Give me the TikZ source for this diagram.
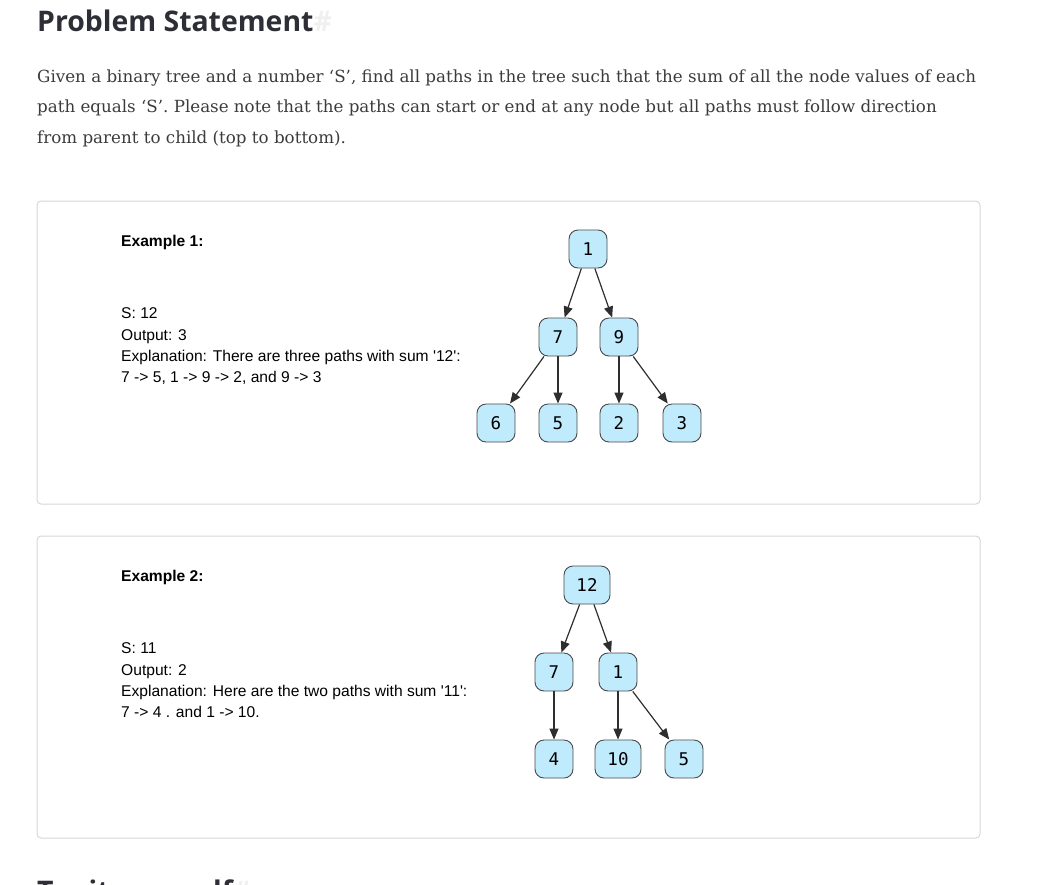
\documentclass[tikz,border=0pt]{standalone}
\usepackage{fontspec}
\setmainfont{DejaVu Serif}
\newfontfamily\headfont{Open Sans}
\newfontfamily\exfont{Liberation Sans}
\newfontfamily\numfont{DejaVu Sans Mono}
\usetikzlibrary{arrows.meta}
\definecolor{nodefill}{HTML}{BFEBFD}
\definecolor{nodeline}{HTML}{4A4A4A}
\definecolor{boxline}{HTML}{D6D6D6}
\definecolor{bodytext}{HTML}{3B3B3B}
\definecolor{headtext}{HTML}{2E2E36}
\begin{document}
\begin{tikzpicture}[x=1pt, y=-1pt,
    treenode/.style={draw=nodeline, line width=0.9pt, fill=nodefill, rounded corners=9pt, minimum width=38pt, minimum height=38pt, inner sep=0pt, font=\numfont\fontsize{17.5}{17.5}\selectfont},
    widenode/.style={treenode, minimum width=46pt},
    edge/.style={draw=black!82, line width=1.2pt, -{Triangle[length=11pt, width=9pt]}},
    exbox/.style={draw=boxline, line width=1pt, rounded corners=4pt},
    extext/.style={anchor=base west, inner sep=0pt, font=\exfont\fontsize{15.6}{15.6}\selectfont},
    exhead/.style={extext, font=\exfont\bfseries\fontsize{15.6}{15.6}\selectfont},
    bodyline/.style={anchor=base west, inner sep=0pt, text=bodytext, font=\fontsize{16.7}{16.7}\selectfont},
    heading/.style={anchor=base west, inner sep=0pt, text=headtext, font=\headfont\bfseries\fontsize{28.4}{28.4}\selectfont}]
    \useasboundingbox (0,0) rectangle (1039,884);
    \clip (0,0) rectangle (1039,884);

    % Heading and statement
    \node[heading] (title) at (37,31) {Problem Statement\textcolor{black!6}{\#}};
    \node[bodyline] (line1) at (37,82) {Given a binary tree and a number ‘S’, find all paths in the tree such that the sum of all the node values of each};
    \node[bodyline] (line2) at (37,112) {path equals ‘S’. Please note that the paths can start or end at any node but all paths must follow direction};
    \node[bodyline] (line3) at (37,143) {from parent to child (top to bottom).};

    % Example boxes
    \draw[exbox] (37,201) rectangle (980,504);
    \draw[exbox] (37,536) rectangle (980,838);

    % Example 1 text
    \node[exhead] (ex1) at (121,246) {Example 1:};
    \node[extext] (s1) at (121,318) {S: 12};
    \node[extext] (o1) at (121,340) {Output: 3};
    \node[extext] (e1) at (121,361) {Explanation: There are three paths with sum '12':};
    \node[extext] (p1) at (121,382) {7 -> 5, 1 -> 9 -> 2, and 9 -> 3};

    % Define nodes
    \node[treenode] (a1) at (588,249) {1};
    \node[treenode] (a7) at (558,337) {7};
    \node[treenode] (a9) at (619,337) {9};
    \node[treenode] (a6) at (496,423) {6};
    \node[treenode] (a5) at (558,423) {5};
    \node[treenode] (a2) at (619,423) {2};
    \node[treenode] (a3) at (682,423) {3};

    % Draw edges
    \draw[edge] (a1) -- (a7);
    \draw[edge] (a1) -- (a9);
    \draw[edge] (a7) -- (a6);
    \draw[edge] (a7) -- (a5);
    \draw[edge] (a9) -- (a2);
    \draw[edge] (a9) -- (a3);

    % Example 2 text
    \node[exhead] (ex2) at (121,581) {Example 2:};
    \node[extext] (s2) at (121,653) {S: 11};
    \node[extext] (o2) at (121,675) {Output: 2};
    \node[extext] (e2) at (121,696) {Explanation: Here are the two paths with sum '11':};
    \node[extext] (p2) at (121,717) {7 -> 4 . and 1 -> 10.};

    % Define nodes
    \node[widenode] (b12) at (587,585) {12};
    \node[treenode] (b7) at (554,672) {7};
    \node[treenode] (b1) at (618,672) {1};
    \node[treenode] (b4) at (554,759) {4};
    \node[widenode] (b10) at (618,759) {10};
    \node[treenode] (b5) at (684,759) {5};

    % Draw edges
    \draw[edge] (b12) -- (b7);
    \draw[edge] (b12) -- (b1);
    \draw[edge] (b7) -- (b4);
    \draw[edge] (b1) -- (b10);
    \draw[edge] (b1) -- (b5);

    % Next heading, cut off by the page edge
    \node[heading] (next) at (37,901) {Try it yourself\textcolor{black!6}{\#}};
\end{tikzpicture}
\end{document}
